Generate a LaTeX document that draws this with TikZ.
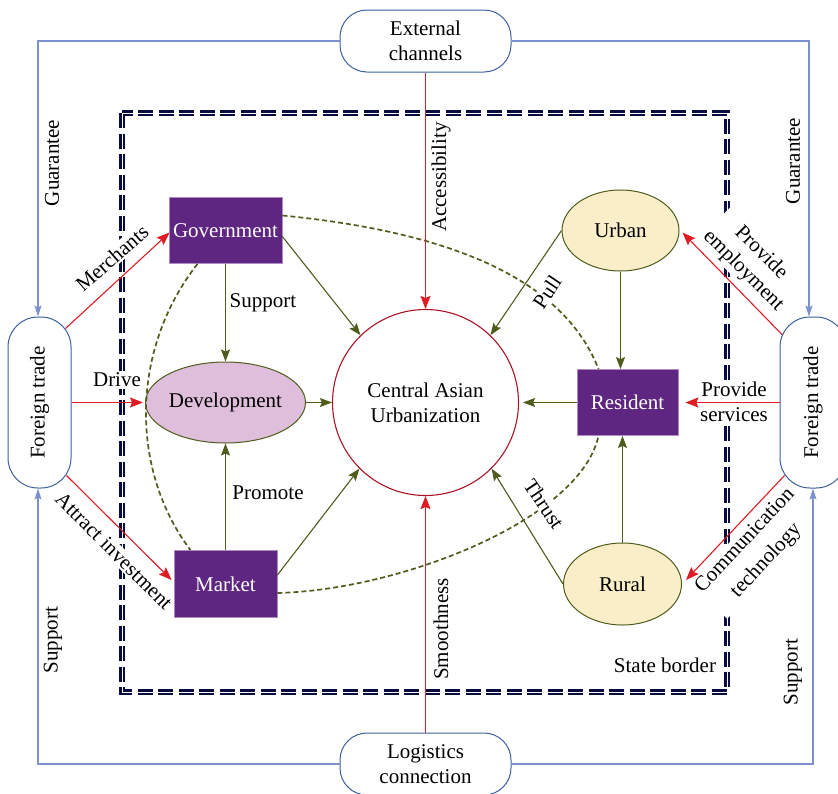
\documentclass[tikz,border=0pt]{standalone}
\usepackage{fontspec}
\usepackage{graphicx}
\setmainfont{Liberation Serif}
\newfontfamily\tnr{Liberation Serif}
\usetikzlibrary{arrows.meta,calc,shapes.geometric}
\definecolor{olv}{RGB}{78,92,28}
\definecolor{rd}{RGB}{222,28,36}
\definecolor{purp}{RGB}{94,38,128}
\definecolor{purpline}{RGB}{175,140,195}
\definecolor{bl}{RGB}{125,145,205}
\definecolor{bbox}{RGB}{60,95,160}
\definecolor{crd}{RGB}{170,20,40}
\definecolor{devf}{RGB}{222,190,218}
\definecolor{urbf}{RGB}{250,238,200}
\definecolor{navyb}{RGB}{8,12,65}
\begin{document}
\begin{tikzpicture}[x=1pt,y=-1pt,
  font=\tnr\fontsize{21}{25}\selectfont,
  pbox/.style={rectangle,draw=purpline,line width=0.8pt,fill=purp,text=white,minimum width=113pt,minimum height=66pt,inner sep=0pt},
  ell/.style={ellipse,draw=olv,line width=1pt,minimum width=117pt,minimum height=81pt,inner sep=0pt},
  rbox/.style={rectangle,draw=bbox,line width=1pt,rounded corners=27pt,minimum width=171pt,minimum height=62pt,align=center,inner sep=0pt},
  ftbox/.style={rectangle,draw=bbox,line width=1pt,rounded corners=30pt,minimum width=63pt,minimum height=171pt,inner sep=0pt},
  lab/.style={inner sep=1pt},
  wlab/.style={inner sep=1.5pt,fill=white},
  oarr/.style={draw=olv,line width=1.1pt,-{Stealth[length=12pt,width=9pt,inset=2pt]}},
  rarr/.style={draw=rd,line width=1.1pt,-{Stealth[length=13pt,width=10pt,inset=2pt]}},
  barr/.style={draw=bl,line width=1.1pt,-{Stealth[length=11pt,width=7pt,inset=2pt]}},
  odash/.style={draw=olv,line width=1.7pt,dash pattern=on 5pt off 3pt},
  stateout/.style={draw=navyb,line width=5.6pt,dash pattern=on 15pt off 5.5pt},
  statein/.style={draw=white,line width=1pt,dash pattern=on 15pt off 5.5pt}
]
\useasboundingbox (0,0) rectangle (838,793);

% state border (double dashed)
\draw[stateout] (122,113) rectangle (727,692);
\draw[statein] (122,113) rectangle (727,692);

% labels that cut the border
\node[wlab,rotate=41] (lmerch) at (112,258) {Merchants};
\node[wlab] (ldrive) at (117,380) {Drive};
\node[wlab,rotate=-45] (lattr) at (114,551) {Attract investment};
\node[wlab,rotate=-45,align=center] (lemp) at (752,262) {Provide\\employment};
\node[wlab,align=center] (lserv) at (734,402) {Provide\\services};
\node[wlab,rotate=47,align=center] (lcomm) at (756,551) {Communication\\[4pt]technology};

% nodes
\node[rbox] (ext) at (425.5,41) {External\\channels};
\node[rbox] (log) at (425.5,764) {Logistics\\connection};
\node[ftbox] (ftl) at (39.5,402.5) {\rotatebox{90}{Foreign trade}};
\node[ftbox,minimum width=66pt] (ftr) at (813,402.5) {\rotatebox{90}{Foreign trade}};
\node[pbox] (gov) at (225.5,230.5) {Government};
\node[pbox,minimum width=103pt,minimum height=67pt] (mkt) at (225.5,584) {Market};
\node[pbox,minimum width=101pt] (res) at (627.5,402.5) {Resident};
\node[ell,fill=devf,minimum width=116pt] (dev) at (225.5,402.5) {Development};
\node[ell,fill=urbf] (urb) at (620.5,230.5) {Urban};
\node[ell,fill=urbf,minimum width=118pt,minimum height=82pt] (rur) at (622.5,584) {Rural};
\node[circle,draw=crd,line width=1.1pt,minimum size=186pt,inner sep=0pt,align=center] (cen) at (425.5,402.5) {Central Asian\\Urbanization};

% dashed curves
\draw[odash] ($(gov.east)+(0,-15)$) .. controls (430,230) and (560,270) .. ($(res.north)+(-29,0)$);
\draw[odash] ($(gov.south)+(-28,0)$) .. controls (130,350) and (130,470) .. ($(mkt.north)+(-35,0)$);
\draw[odash] ($(mkt.east)+(0,9)$) .. controls (400,590) and (580,520) .. ($(res.south)+(-29,0)$);

% labels breaking the dashed curves
\node[wlab,rotate=56] (lpull) at (547,292) {Pull};
\node[wlab,rotate=-56] (lthrust) at (544,504) {Thrust};

% olive arrows
\draw[oarr] (gov.south) -- (dev.north);
\draw[oarr] ($(gov.east)+(0,6)$) -- (cen.134);
\draw[oarr] (dev.east) -- (cen.west);
\draw[oarr] (mkt.north) -- (dev.south);
\draw[oarr] ($(mkt.east)+(0,-9)$) -- (cen.225);
\draw[oarr] (urb.west) -- (cen.46);
\draw[oarr] (urb.south) -- (urb.south |- res.north);
\draw[oarr,shorten >=4pt] (res.west) -- (cen.east);
\draw[oarr] (rur.north) -- (rur.north |- res.south);
\draw[oarr] (rur.west) -- (cen.-45);

% red arrows
\draw[rarr] (ext.south) -- (cen.north);
\draw[rarr] (log.north) -- (cen.south);
\draw[rarr] ($(ftl.north east)+(-6,12)$) -- ($(gov.west)+(1,2)$);
\draw[rarr] (ftl.east) -- ($(dev.west)+(-2,0)$);
\draw[rarr] ($(ftl.south east)+(-5,-13)$) -- ($(mkt.west)+(-2,-4)$);
\draw[rarr] ($(ftr.north west)+(2.5,18)$) -- ($(urb.east)+(3,2)$);
\draw[rarr] (ftr.west) -- ($(res.east)+(7,0)$);
\draw[rarr] ($(ftr.south west)+(5,-13)$) -- ($(rur.east)+(4,-4)$);

% blue arrows
\draw[barr] (ext.west) -| ($(ftl.north)+(-1.5,0)$);
\draw[barr] (ext.east) -| ($(ftr.north)+(-4,0)$);
\draw[barr] (log.west) -| ($(ftl.south)+(-1.5,0)$);
\draw[barr] (log.east) -| (ftr.south);

% other labels
\node[lab,rotate=90] (lguarl) at (52,163) {Guarantee};
\node[lab,rotate=90] (lguarr) at (793,161) {Guarantee};
\node[lab,rotate=90] (lsupl) at (53,640) {Support};
\node[lab,rotate=90] (lsupr) at (793,672) {Support};
\node[lab] (lsupport) at (263,303) {Support};
\node[lab] (lpromote) at (268,493) {Promote};
\node[lab,rotate=90] (lacc) at (441,177) {Accessibility};
\node[lab,rotate=90] (lsmooth) at (441,629) {Smoothness};
\node[lab] (lstate) at (665,665) {State border};
\end{tikzpicture}
\end{document}
